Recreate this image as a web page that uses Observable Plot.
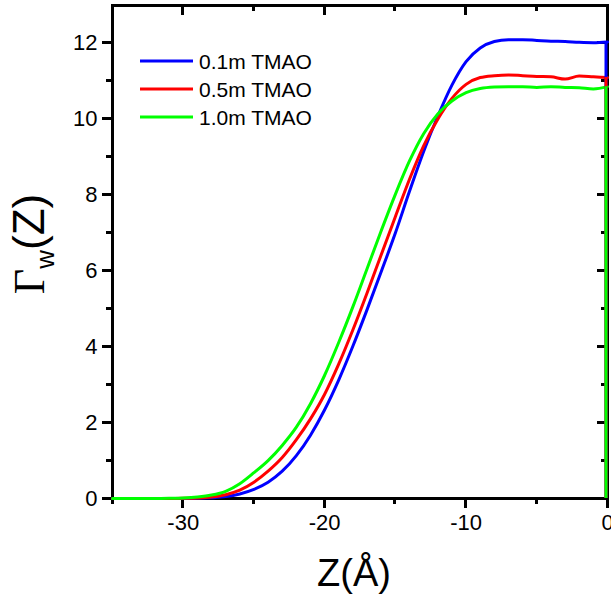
<!DOCTYPE html>
<html>
<head>
<meta charset="utf-8">
<script src="https://cdn.jsdelivr.net/npm/d3@7"></script>
<script src="https://cdn.jsdelivr.net/npm/@observablehq/plot@0.6"></script>
<style>
  html, body { margin: 0; padding: 0; background: #fff; overflow: hidden; width: 611px; height: 598px; }
  #chart { width: 611px; height: 598px; overflow: hidden; }
  #chart svg { display: block; overflow: hidden; max-width: none; }
</style>
</head>
<body>
<div id="chart"></div>
<script>
// Z positions (Å)
const zValues = [-35,-34,-33,-32,-31,-30,-29,-28,-27,-26,-25,-24,-23,-22,-21,-20,-19,-18,-17,-16,-15,-14,-13,-12,-11,-10,-9,-8,-7,-6,-5,-4,-3,-2,-1,0];
// Γw(Z) for each TMAO concentration
const gamma01 = [0,0,0,0,0,0,0.005,0.02,0.05,0.12,0.24,0.43,0.72,1.13,1.67,2.34,3.13,4.02,4.98,5.98,7.0,8.1,9.15,10.08,10.9,11.52,11.88,12.05,12.1,12.1,12.08,12.06,12.05,12.03,12.02,12.04];
const gamma05 = [0,0,0,0,0,0.005,0.015,0.04,0.1,0.22,0.43,0.72,1.08,1.55,2.1,2.75,3.55,4.45,5.42,6.43,7.43,8.42,9.3,10.0,10.55,10.92,11.1,11.15,11.17,11.15,11.13,11.12,11.06,11.14,11.12,11.1];
const gamma10 = [0,0,0,0,0.005,0.015,0.04,0.09,0.19,0.39,0.68,1.0,1.4,1.88,2.5,3.25,4.12,5.06,6.06,7.06,8.02,8.9,9.62,10.14,10.48,10.7,10.81,10.85,10.86,10.86,10.84,10.86,10.84,10.83,10.8,10.86];

const seriesNames = ["0.1m TMAO", "0.5m TMAO", "1.0m TMAO"];
const seriesValues = [gamma01, gamma05, gamma10];
const seriesColors = ["#0000ff", "#ff0000", "#00ff00"];

const xMajorTicks = [-30, -20, -10, 0];
const xMinorTicks = [-35, -25, -15, -5];
const yMajorTicks = [0, 2, 4, 6, 8, 10, 12];
const yMinorTicks = [1, 3, 5, 7, 9, 11];

const rows = [];
seriesNames.forEach((name, s) => {
  zValues.forEach((z, i) => rows.push({ z, g: seriesValues[s][i], series: name }));
});
const ends = seriesNames.map((name, s) => ({
  z: zValues[zValues.length - 1],
  g: seriesValues[s][seriesValues[s].length - 1],
  series: name
}));

const W = 611, H = 598;
const mLeft = 112, mRight = 4, mTop = 5, mBottom = 100;
const fontFam = "'Liberation Sans', Arial, sans-serif";

const plot = Plot.plot({
  width: W, height: H,
  marginLeft: mLeft, marginRight: mRight, marginTop: mTop, marginBottom: mBottom,
  style: { fontFamily: fontFam, background: "#fff", color: "#000", overflow: "hidden" },
  x: { domain: [-35, 0] },
  y: { domain: [0, 13] },
  color: { domain: seriesNames, range: seriesColors },
  marks: [
    Plot.axisX({ anchor: "bottom", ticks: xMajorTicks, tickSize: 0, tickPadding: 16, fontSize: 22, tickFormat: d => String(d), label: null }),
    Plot.axisY({ anchor: "left", ticks: yMajorTicks, tickSize: 0, tickPadding: 15, fontSize: 22, tickFormat: d => String(d), label: null }),
    Plot.line(rows, { x: "z", y: "g", z: "series", stroke: "series", strokeWidth: 3, curve: "monotone-x" }),
    Plot.ruleX(ends, { x: "z", y1: 0, y2: "g", stroke: "series", strokeWidth: 3, dx: -1.5 })
  ]
});
document.getElementById("chart").appendChild(plot);

const svg = d3.select(plot);
const sx = plot.scale("x"), sy = plot.scale("y");
const [x0, x1] = sx.range, [y0, y1] = sy.range; // y0 bottom, y1 top
const px = v => sx.apply(v), py = v => sy.apply(v);

// frame and ticks (bottom/left outward, top/right inward), under the data lines
const axes = svg.insert("g", "g[aria-label='line']")
  .attr("fill", "none")
  .attr("shape-rendering", "crispEdges");
axes.append("rect")
  .attr("x", Math.min(x0, x1)).attr("y", Math.min(y0, y1))
  .attr("width", Math.abs(x1 - x0)).attr("height", Math.abs(y0 - y1))
  .attr("fill", "none").attr("stroke", "#000").attr("stroke-width", 3)
  .attr("shape-rendering", "crispEdges");
const tick = (xa, xb, ya, yb) => axes.append("line")
  .attr("x1", xa).attr("x2", xb).attr("y1", ya).attr("y2", yb)
  .attr("stroke", "#000").attr("stroke-width", 3)
  .attr("shape-rendering", "crispEdges");
[[xMajorTicks, 10], [xMinorTicks, 6]].forEach(([ticks, len]) => ticks.forEach(t => {
  const x = px(t);
  tick(x, x, y0, y0 + len);
  tick(x, x, y1, y1 + len);
}));
[[yMajorTicks, 10], [yMinorTicks, 6]].forEach(([ticks, len]) => ticks.forEach(t => {
  const y = py(t);
  tick(x0 - len, x0, y, y);
  tick(x1 - len, x1, y, y);
}));

// x-axis title
svg.append("text")
  .attr("x", 354).attr("y", 586)
  .attr("text-anchor", "middle")
  .style("font-family", fontFam).style("font-size", "38px")
  .attr("fill", "#000")
  .text("Z(Å)");

// y-axis title: Γw(Z)
const yt = svg.append("text")
  .attr("transform", `translate(44, 244) rotate(-90)`)
  .attr("text-anchor", "middle")
  .attr("fill", "#000");
yt.append("tspan").style("font-family", "'Liberation Serif', 'Times New Roman', serif").style("font-size", "44px").text("Γ");
yt.append("tspan").style("font-family", fontFam).style("font-size", "26px").attr("dy", 10).text("w");
yt.append("tspan").style("font-family", fontFam).style("font-size", "44px").attr("dy", -10).text("(Z)");

// legend
const legend = svg.append("g");
seriesNames.forEach((name, i) => {
  const y = 61 + i * 28;
  legend.append("line")
    .attr("x1", 140).attr("x2", 193)
    .attr("y1", y).attr("y2", y)
    .attr("stroke", seriesColors[i])
    .attr("stroke-width", 3);
  legend.append("text")
    .attr("x", 199).attr("y", y + 7.5)
    .attr("text-anchor", "start")
    .style("font-family", fontFam).style("font-size", "21px")
    .attr("fill", "#000")
    .text(name);
});
</script>
</body>
</html>
